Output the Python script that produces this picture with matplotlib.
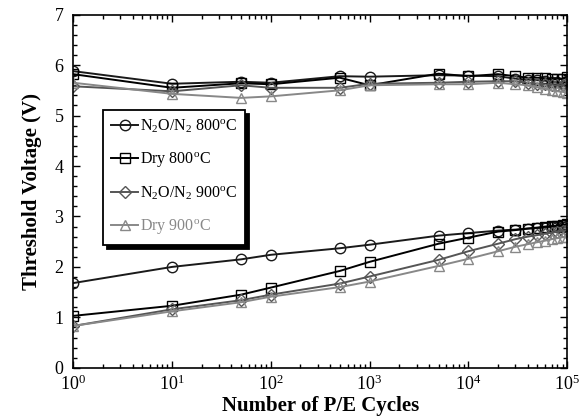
import matplotlib
matplotlib.use('Agg')
import matplotlib.pyplot as plt
from matplotlib.ticker import LogLocator, MultipleLocator, NullFormatter
import numpy as np

plt.rcParams['font.family'] = 'Liberation Serif'
plt.rcParams['mathtext.fontset'] = 'custom'
plt.rcParams['mathtext.rm'] = 'Liberation Serif'
plt.rcParams['mathtext.it'] = 'Liberation Serif:italic'
plt.rcParams['mathtext.bf'] = 'Liberation Serif:bold'

# P/E cycle counts
cycles = [1, 10, 50, 100, 500, 1000, 5000, 10000, 20000, 30000,
          40000, 50000, 60000, 70000, 80000, 90000, 100000]

# programmed state (upper branch)
vth_prog_n2o_800 = [5.88, 5.63, 5.67, 5.65, 5.78, 5.77, 5.80, 5.79, 5.78, 5.73,
                    5.71, 5.70, 5.69, 5.67, 5.66, 5.65, 5.68]
vth_prog_dry_800 = [5.82, 5.55, 5.64, 5.62, 5.75, 5.60, 5.83, 5.78, 5.82, 5.78,
                    5.75, 5.75, 5.74, 5.72, 5.72, 5.73, 5.76]
vth_prog_n2o_900 = [5.58, 5.48, 5.60, 5.55, 5.55, 5.63, 5.65, 5.67, 5.68, 5.68,
                    5.65, 5.63, 5.62, 5.60, 5.60, 5.60, 5.64]
vth_prog_dry_900 = [5.65, 5.43, 5.35, 5.38, 5.50, 5.60, 5.62, 5.62, 5.65, 5.62,
                    5.60, 5.56, 5.53, 5.50, 5.48, 5.47, 5.45]

# erased state (lower branch)
vth_erase_n2o_800 = [1.68, 2.00, 2.15, 2.24, 2.37, 2.44, 2.62, 2.67, 2.72, 2.74,
                     2.76, 2.77, 2.78, 2.79, 2.80, 2.80, 2.81]
vth_erase_dry_800 = [1.03, 1.23, 1.45, 1.59, 1.92, 2.10, 2.46, 2.58, 2.70, 2.73,
                     2.76, 2.78, 2.80, 2.81, 2.82, 2.83, 2.85]
vth_erase_n2o_900 = [0.83, 1.16, 1.34, 1.45, 1.67, 1.81, 2.14, 2.31, 2.46, 2.55,
                     2.60, 2.63, 2.66, 2.68, 2.70, 2.72, 2.73]
vth_erase_dry_900 = [0.83, 1.12, 1.30, 1.41, 1.60, 1.71, 2.02, 2.16, 2.31, 2.40,
                     2.45, 2.49, 2.52, 2.55, 2.57, 2.59, 2.60]

labels = [r'N$_2$O/N$_2$ 800$^{\rm o}$C', r'Dry 800$^{\rm o}$C',
          r'N$_2$O/N$_2$ 900$^{\rm o}$C', r'Dry 900$^{\rm o}$C']
markers = ['o', 's', 'D', '^']
colors = ['#1a1a1a', '#000000', '#555555', '#888888']
msizes = [7.5, 7.5, 6, 7.5]

prog = [vth_prog_n2o_800, vth_prog_dry_800, vth_prog_n2o_900, vth_prog_dry_900]
erase = [vth_erase_n2o_800, vth_erase_dry_800, vth_erase_n2o_900, vth_erase_dry_900]

fig = plt.figure(figsize=(5.81, 4.18), dpi=100)
ax = fig.add_axes([0.126, 0.12, 0.850, 0.845])

handles = []
for p, e, lab, m, c, ms in zip(prog, erase, labels, markers, colors, msizes):
    h, = ax.plot(cycles, p, marker=m, color=c, mfc='none', mec=c, ms=ms,
                 lw=1.4, mew=1.0, label=lab)
    ax.plot(cycles, e, marker=m, color=c, mfc='none', mec=c, ms=ms,
            lw=1.4, mew=1.0)
    handles.append(h)

ax.set_xscale('log')
ax.set_xlim(1, 1e5)
ax.set_ylim(0, 7)
ax.yaxis.set_major_locator(MultipleLocator(1))
ax.yaxis.set_minor_locator(MultipleLocator(0.2))
ax.xaxis.set_minor_locator(LogLocator(base=10, subs=np.arange(2, 10)))
ax.xaxis.set_minor_formatter(NullFormatter())
ax.tick_params(which='both', direction='in', top=True, right=True,
               labelsize=13, width=1)
ax.tick_params(which='major', length=5)
ax.tick_params(which='minor', length=3)
ax.tick_params(axis='x', pad=5)
ax.tick_params(axis='y', pad=7)
for s in ax.spines.values():
    s.set_linewidth(1.2)

ax.set_xlabel('Number of P/E Cycles', fontsize=15, fontweight='bold', labelpad=1)
ax.set_ylabel('Threshold Voltage (V)', fontsize=15, fontweight='bold', labelpad=9)

leg = ax.legend(handles=handles, loc='upper left', bbox_to_anchor=(0.061, 0.731),
                fontsize=11.5, frameon=True, fancybox=False,
                shadow={'color': 'black', 'alpha': 1, 'ox': 3, 'oy': -3},
                edgecolor='black', handlelength=1.7, handletextpad=0.1,
                labelspacing=0.95, borderpad=0.5, borderaxespad=0)
leg.get_frame().set_linewidth(1.3)
for txt, c in zip(leg.get_texts(), colors):
    txt.set_color(c if c == '#888888' else 'black')

fig.savefig('out.png', dpi=100)
